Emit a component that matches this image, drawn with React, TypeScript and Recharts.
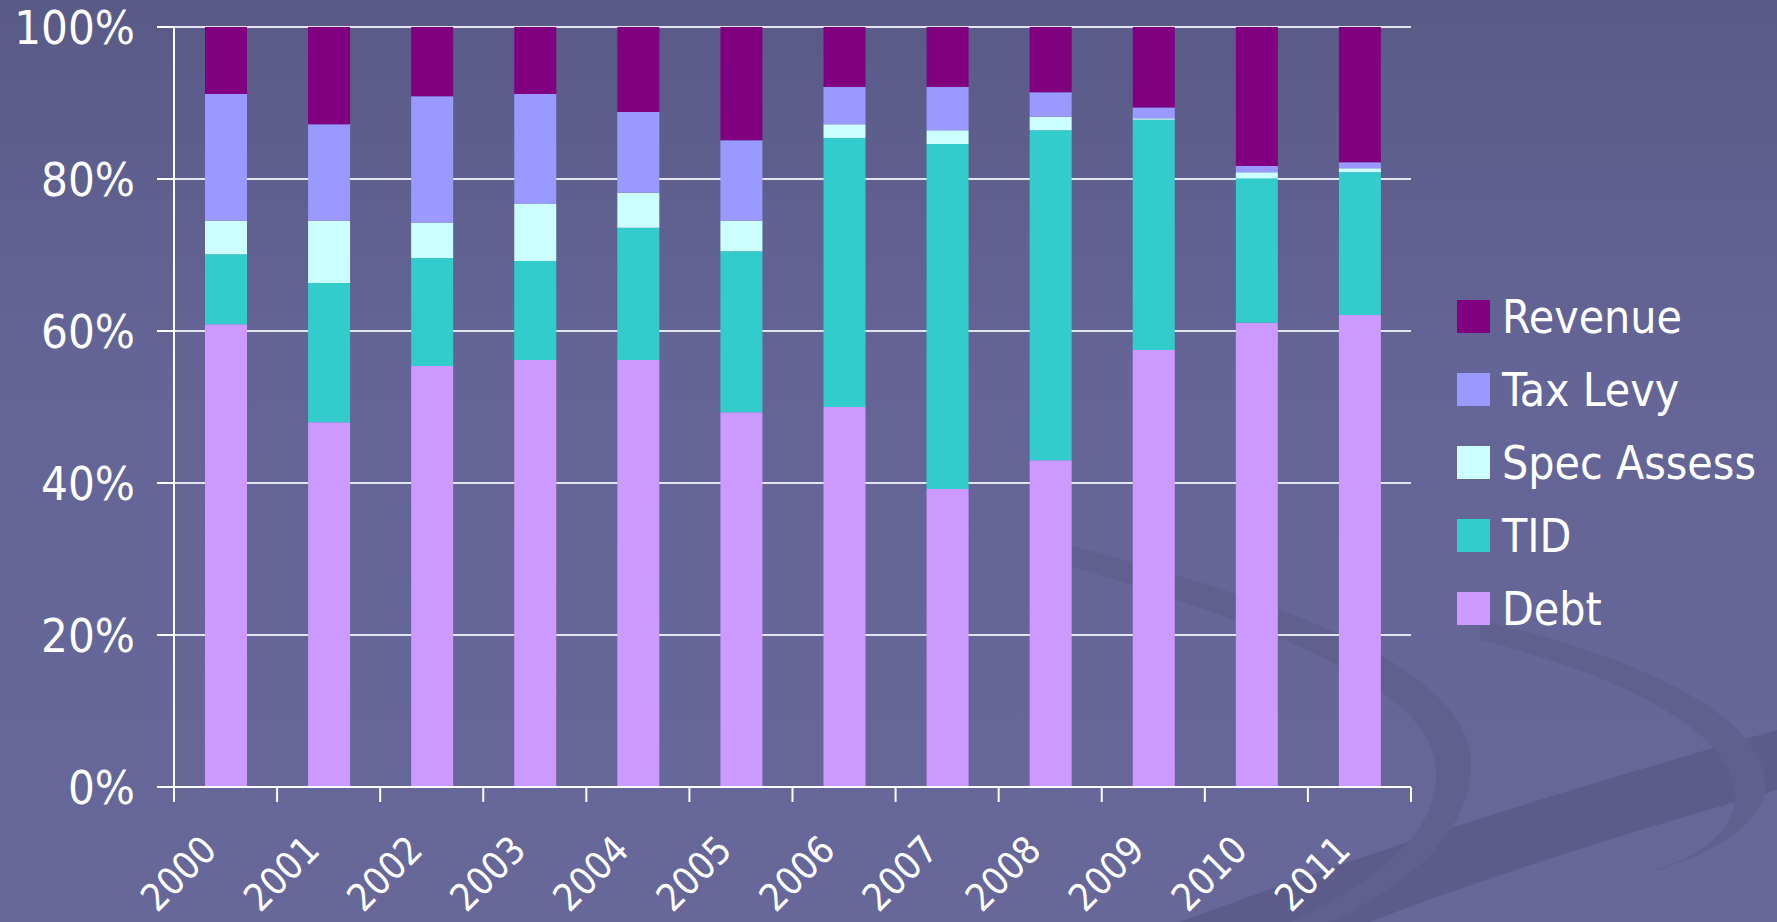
import React from "react";
import { BarChart, Bar, XAxis, YAxis, CartesianGrid, Legend } from "recharts";

// Share of funding by source, percent of each year's total
const years = ["2000", "2001", "2002", "2003", "2004", "2005", "2006", "2007", "2008", "2009", "2010", "2011"];
const debt = [60.9, 48.0, 55.4, 56.2, 56.2, 49.3, 50.0, 39.2, 43.0, 57.5, 61.1, 62.1];
const tid = [9.2, 18.3, 14.2, 13.0, 17.4, 21.2, 35.4, 45.4, 43.4, 30.3, 19.0, 18.8];
const specAssess = [4.4, 8.2, 4.6, 7.5, 4.6, 4.0, 1.8, 1.8, 1.8, 0.2, 0.8, 0.5];
const taxLevy = [16.7, 12.7, 16.7, 14.5, 10.6, 10.6, 4.9, 5.7, 3.2, 1.4, 0.8, 0.8];
const revenue = [8.8, 12.8, 9.1, 8.8, 11.2, 14.9, 7.9, 7.9, 8.6, 10.6, 18.3, 17.8];
const yTicks = [0, 20, 40, 60, 80, 100];

// stacked bottom to top
const series = [
  { key: "debt", name: "Debt", color: "#cc99ff" },
  { key: "tid", name: "TID", color: "#33cccc" },
  { key: "specAssess", name: "Spec Assess", color: "#ccffff" },
  { key: "taxLevy", name: "Tax Levy", color: "#9999ff" },
  { key: "revenue", name: "Revenue", color: "#800080" },
];

const data = years.map((year, i) => ({
  year,
  debt: debt[i],
  tid: tid[i],
  specAssess: specAssess[i],
  taxLevy: taxLevy[i],
  revenue: revenue[i],
}));

const W = 1777;
const H = 922;
const MARGIN = { top: 27, right: 366, left: 0, bottom: 0 };
const Y_AXIS_W = 174;
const BAND = (W - Y_AXIS_W - MARGIN.right) / years.length;
const FONT = '"DejaVu Sans Condensed", "DejaVu Sans", sans-serif';

function YearTick(props: any) {
  const { x, y, payload, index } = props;
  const half = BAND / 2;
  const tx = x - 7;
  const ty = y + 65;
  return (
    <g>
      <line x1={x - half} x2={x - half} y1={y} y2={y + 15} stroke="#fff" strokeWidth={2} />
      {index === years.length - 1 && (
        <line x1={x + half} x2={x + half} y1={y} y2={y + 15} stroke="#fff" strokeWidth={2} />
      )}
      <text
        x={tx}
        y={ty}
        transform={`rotate(-45 ${tx} ${ty})`}
        textAnchor="end"
        fill="#fff"
        fontSize={38}
        fontFamily={FONT}
        style={{ fontStretch: "condensed" }}
      >
        {payload.value}
      </text>
    </g>
  );
}

function SideLegend() {
  const items = [...series].reverse();
  return (
    <div style={{ fontFamily: FONT, fontStretch: "condensed" }}>
      {items.map((s) => (
        <div key={s.key} style={{ display: "flex", alignItems: "center", height: 73 }}>
          <span style={{ width: 33, height: 33, background: s.color, marginRight: 12 }} />
          <span style={{ color: "#fff", fontSize: 46, lineHeight: 1 }}>{s.name}</span>
        </div>
      ))}
    </div>
  );
}

export default function App() {
  return (
    <div
      style={{
        position: "absolute",
        left: 0,
        top: 0,
        width: W,
        height: H,
        overflow: "hidden",
        background: "linear-gradient(180deg, #595a86 0%, #646596 40%, #67679a 100%)",
      }}
    >
      {/* faint decorative swooshes of the slide background */}
      <svg width={W} height={H} style={{ position: "absolute", left: 0, top: 0 }}>
        <path
          d="M1180 922 C1400 840 1600 780 1777 730 L1777 790 C1600 840 1450 890 1370 922 Z"
          fill="#5c5c8a"
        />
        <path
          d="M1050 560 C1250 620 1420 680 1435 760 C1445 830 1380 880 1290 922 L1330 922 C1420 880 1480 820 1470 750 C1450 660 1280 600 1050 540 Z"
          fill="#60608f"
        />
        <path
          d="M1480 640 C1640 680 1740 740 1735 800 C1730 840 1690 860 1640 875 C1700 860 1760 830 1765 790 C1770 720 1650 660 1480 620 Z"
          fill="#60608f"
        />
      </svg>
      <BarChart
        width={W}
        height={H}
        data={data}
        margin={MARGIN}
        barSize={42}
        style={{ position: "absolute", left: 0, top: 0 }}
      >
        <CartesianGrid horizontal vertical={false} stroke="#e4e4ee" strokeWidth={2} />
        <XAxis
          dataKey="year"
          height={135}
          axisLine={{ stroke: "#fff", strokeWidth: 2 }}
          tickLine={false}
          tickSize={0}
          tickMargin={0}
          interval={0}
          tick={<YearTick />}
        />
        <YAxis
          width={Y_AXIS_W}
          domain={[0, 100]}
          ticks={yTicks}
          allowDataOverflow
          axisLine={{ stroke: "#fff", strokeWidth: 2 }}
          tickLine={{ stroke: "#fff", strokeWidth: 2 }}
          tickSize={17}
          tickMargin={22}
          tickFormatter={(v) => `${v}%`}
          tick={{ fill: "#fff", fontSize: 47, fontFamily: FONT, style: { fontStretch: "condensed" } }}
        />
        <Legend
          layout="vertical"
          align="center"
          verticalAlign="middle"
          content={<SideLegend />}
          wrapperStyle={{ left: 1457, top: 280, width: 320 }}
        />
        {series.map((s) => (
          <Bar
            key={s.key}
            dataKey={s.key}
            name={s.name}
            stackId="a"
            fill={s.color}
            isAnimationActive={false}
          />
        ))}
      </BarChart>
    </div>
  );
}
